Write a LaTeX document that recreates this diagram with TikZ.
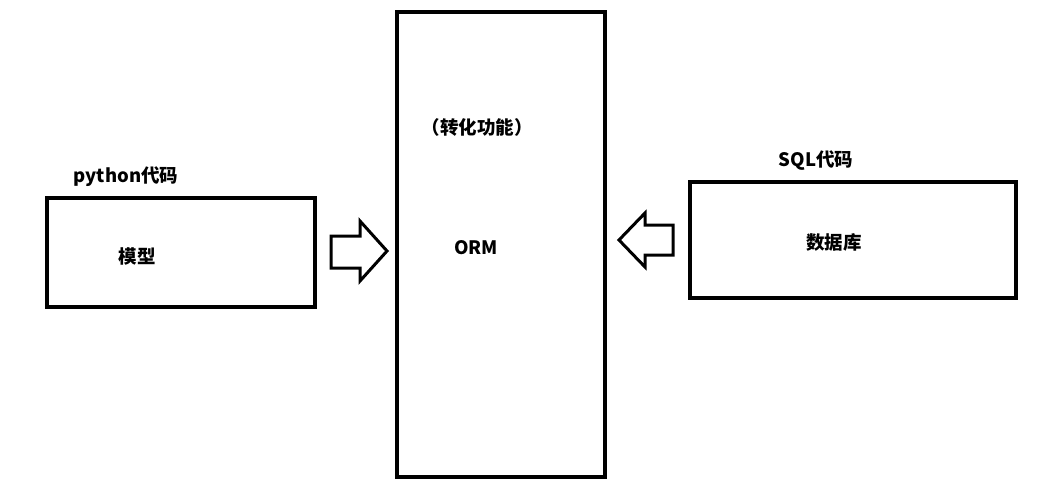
\documentclass[tikz,border=0pt]{standalone}
\usepackage{fontspec}
\setmainfont{Noto Sans CJK SC}
\begin{document}
\begin{tikzpicture}[x=1pt,y=-1pt,
  box/.style={draw=black,line width=4pt,fill=none},
  arr/.style={draw=black,line width=3pt,line join=miter},
  lbl/.style={font=\fontsize{18.5}{22}\selectfont\bfseries,inner sep=0pt,text=black}]
\useasboundingbox (0,0) rectangle (1042,488);
\fill[white] (0,0) rectangle (1042,488);
% boxes
\draw[box] (47,198) rectangle (315,307);
\draw[box] (397,12) rectangle (605,477);
\draw[box] (690,182) rectangle (1016,298);
% arrows
\draw[arr] (331,236) -- (360,236) -- (360,221) -- (387,251) -- (360,281) -- (360,268) -- (331,268) -- cycle;
\draw[arr] (673,225) -- (645,225) -- (645,213) -- (619,240) -- (645,267) -- (645,255) -- (673,255) -- cycle;
% labels
\node[lbl] (py) at (126,177) {python代码};
\node[lbl] (mx) at (137,256) {模型};
\node[lbl] (zh) at (477,127) {（转化功能）};
\node[lbl] (orm) at (476,248) {ORM};
\node[lbl] (sql) at (816,161) {SQL代码};
\node[lbl] (db) at (834,242) {数据库};
\end{tikzpicture}
\end{document}
